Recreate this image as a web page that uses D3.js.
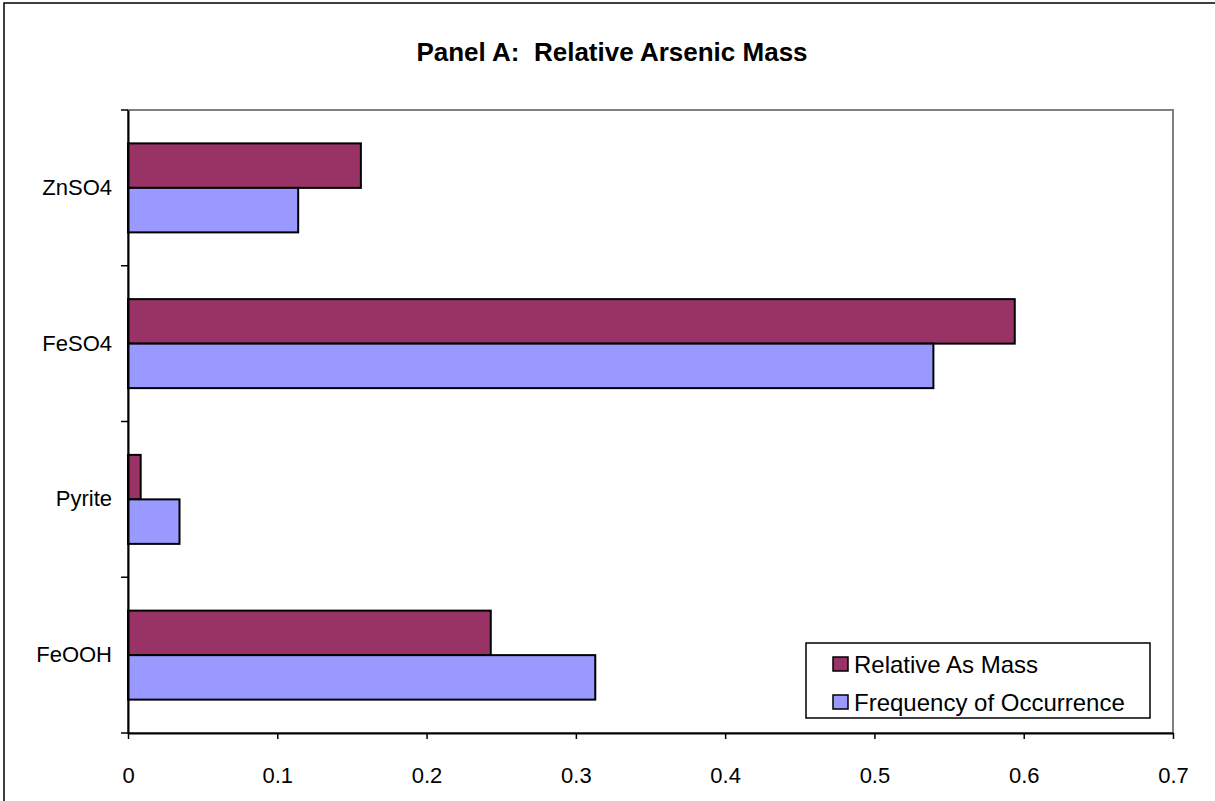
<!DOCTYPE html>
<html>
<head>
<meta charset="utf-8">
<script src="https://cdn.jsdelivr.net/npm/d3@7"></script>
<style>
  body { margin: 0; background: #fff; }
  svg { display: block; font-family: 'Liberation Sans', Arial, sans-serif; }
</style>
</head>
<body>
<svg id="chart" width="1215" height="801"></svg>
<script>
// DATA
const categories = ['ZnSO4', 'FeSO4', 'Pyrite', 'FeOOH'];
const seriesNames = ['Relative As Mass', 'Frequency of Occurrence'];
const relativeMass = [0.156, 0.594, 0.0085, 0.243];
const frequency = [0.114, 0.5395, 0.0345, 0.313];
const xTicks = [0, 0.1, 0.2, 0.3, 0.4, 0.5, 0.6, 0.7];
const colors = ['#993366', '#9999ff'];

// SETUP
let svg = d3.select('svg'),
  margin = { top: 110, right: 42, bottom: 68, left: 128 },
  width = 1215 - margin.left - margin.right,
  height = 801 - margin.top - margin.bottom;

// outer frame (only left and top edges are visible in the picture)
svg.append('rect')
  .attr('x', 4).attr('y', 3)
  .attr('width', 1300).attr('height', 900)
  .attr('fill', 'none')
  .attr('stroke', '#000')
  .attr('stroke-width', 1.5);

svg.append('text')
  .attr('x', 612)
  .attr('y', 61)
  .attr('text-anchor', 'middle')
  .style('font-size', '26px')
  .style('font-weight', 'bold')
  .style('white-space', 'pre')
  .text('Panel A:  Relative Arsenic Mass');

let g = svg.append('g')
  .attr('transform', 'translate(' + margin.left + ',' + margin.top + ')');

let x = d3.scaleLinear().domain([0, 0.7]).range([0, width]);
let y = d3.scaleBand().domain(categories).range([0, height]);
let inner = d3.scaleBand().domain(seriesNames)
  .range([0, y.bandwidth() / 1.75])
  .paddingInner(0).paddingOuter(0);
let groupOffset = (y.bandwidth() - y.bandwidth() / 1.75) / 2;

// PLOT AREA
g.append('rect')
  .attr('width', width).attr('height', height)
  .attr('fill', '#fff')
  .attr('stroke', '#808080')
  .attr('stroke-width', 2);

// BARS
const rows = categories.map((c, i) => ({
  cat: c,
  values: [relativeMass[i], frequency[i]]
}));

let groups = g.selectAll('.grp').data(rows).enter()
  .append('g')
  .attr('class', 'grp')
  .attr('transform', d => 'translate(0,' + (y(d.cat) + groupOffset) + ')');

groups.selectAll('rect')
  .data(d => d.values.map((v, j) => ({ name: seriesNames[j], value: v, j: j })))
  .enter()
  .append('rect')
  .attr('x', x(0))
  .attr('y', d => inner(d.name))
  .attr('width', d => x(d.value) - x(0))
  .attr('height', inner.bandwidth())
  .attr('fill', d => colors[d.j])
  .attr('stroke', '#000')
  .attr('stroke-width', 2);

// AXES
let xAxis = g.append('g')
  .attr('transform', 'translate(0,' + height + ')')
  .call(d3.axisBottom(x).tickValues(xTicks).tickFormat(d3.format('')).tickSizeInner(6).tickSizeOuter(0).tickPadding(28));
xAxis.select('.domain').attr('stroke', '#000').attr('stroke-width', 2);
xAxis.selectAll('.tick line').attr('stroke', '#000').attr('stroke-width', 1.5);
xAxis.selectAll('text').style('font-size', '22px').attr('fill', '#000');

let yAxis = g.append('g')
  .call(d3.axisLeft(y).tickSize(0).tickPadding(16));
yAxis.select('.domain').attr('stroke', '#000').attr('stroke-width', 2);
yAxis.selectAll('text').style('font-size', '22px').attr('fill', '#000');

// category divider ticks on the left axis
const dividers = categories.map(c => y(c)).concat([height]);
g.selectAll('.ytick').data(dividers).enter()
  .append('line')
  .attr('x1', -7).attr('x2', 0)
  .attr('y1', d => d).attr('y2', d => d)
  .attr('stroke', '#000')
  .attr('stroke-width', 1.5);

// LEGEND
let legend = svg.append('g').attr('transform', 'translate(806,643)');
legend.append('rect')
  .attr('width', 344).attr('height', 75)
  .attr('fill', '#fff')
  .attr('stroke', '#000')
  .attr('stroke-width', 1.5);
seriesNames.forEach((name, i) => {
  let row = legend.append('g').attr('transform', 'translate(27,' + (14 + i * 38) + ')');
  row.append('rect')
    .attr('width', 15).attr('height', 14)
    .attr('fill', colors[i])
    .attr('stroke', '#000')
    .attr('stroke-width', 1.5);
  row.append('text')
    .attr('x', 21).attr('y', 7)
    .attr('dy', '0.36em')
    .style('font-size', '24px')
    .text(name);
});
</script>
</body>
</html>
